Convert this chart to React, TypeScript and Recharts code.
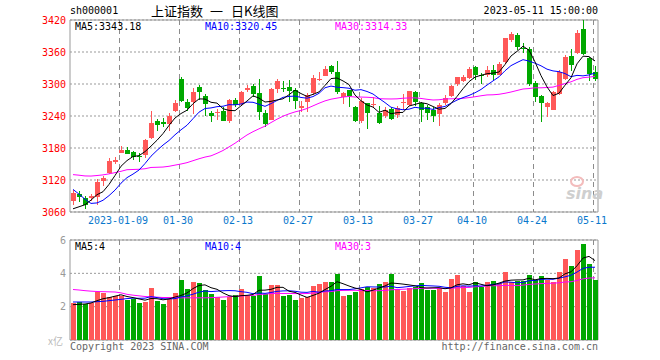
import React from 'react';
import { ComposedChart, Bar, Line, XAxis, YAxis, CartesianGrid, ReferenceArea } from 'recharts';

// trading days shown on the chart
const dates = [
  '2022-12-27', '2022-12-28', '2022-12-29', '2022-12-30',
  '2023-01-03', '2023-01-04', '2023-01-05', '2023-01-06', '2023-01-09', '2023-01-10', '2023-01-11', '2023-01-12',
  '2023-01-13', '2023-01-16', '2023-01-17', '2023-01-18', '2023-01-19', '2023-01-20', '2023-01-30', '2023-01-31',
  '2023-02-01', '2023-02-02', '2023-02-03', '2023-02-06', '2023-02-07', '2023-02-08', '2023-02-09', '2023-02-10',
  '2023-02-13', '2023-02-14', '2023-02-15', '2023-02-16', '2023-02-17', '2023-02-20', '2023-02-21', '2023-02-22',
  '2023-02-23', '2023-02-24', '2023-02-27', '2023-02-28',
  '2023-03-01', '2023-03-02', '2023-03-03', '2023-03-06', '2023-03-07', '2023-03-08', '2023-03-09', '2023-03-10',
  '2023-03-13', '2023-03-14', '2023-03-15', '2023-03-16', '2023-03-17', '2023-03-20', '2023-03-21', '2023-03-22',
  '2023-03-23', '2023-03-24', '2023-03-27', '2023-03-28', '2023-03-29', '2023-03-30', '2023-03-31',
  '2023-04-03', '2023-04-04', '2023-04-06', '2023-04-07', '2023-04-10', '2023-04-11', '2023-04-12', '2023-04-13',
  '2023-04-14', '2023-04-17', '2023-04-18', '2023-04-19', '2023-04-20', '2023-04-21', '2023-04-24', '2023-04-25',
  '2023-04-26', '2023-04-27', '2023-04-28',
  '2023-05-04', '2023-05-05', '2023-05-08', '2023-05-09', '2023-05-10', '2023-05-11',
];

const opens = [
  3080, 3093, 3087, 3085, 3088, 3117, 3133, 3154, 3171, 3177,
  3172, 3165, 3167, 3199, 3231, 3228, 3225, 3249, 3310, 3266,
  3267, 3295, 3278, 3245, 3246, 3250, 3231, 3270, 3262, 3290,
  3296, 3284, 3245, 3233, 3292, 3293, 3295, 3288, 3255, 3267,
  3282, 3309, 3316, 3334, 3322, 3276, 3288, 3257, 3231, 3264,
  3261, 3246, 3240, 3254, 3243, 3263, 3261, 3285, 3264, 3257,
  3252, 3244, 3264, 3277, 3299, 3305, 3311, 3331, 3316, 3317,
  3327, 3318, 3340, 3382, 3392, 3368, 3366, 3302, 3278, 3257,
  3253, 3282, 3310, 3352, 3358, 3404, 3349, 3322,
];

const highs = [
  3102, 3100, 3090, 3093, 3122, 3128, 3162, 3164, 3183, 3181,
  3175, 3170, 3196, 3250, 3234, 3236, 3245, 3270, 3313, 3272,
  3292, 3298, 3282, 3250, 3253, 3256, 3272, 3273, 3287, 3298,
  3300, 3309, 3252, 3292, 3309, 3306, 3307, 3292, 3269, 3283,
  3317, 3322, 3333, 3336, 3344, 3285, 3289, 3258, 3274, 3265,
  3275, 3259, 3257, 3256, 3258, 3282, 3287, 3287, 3267, 3261,
  3257, 3264, 3280, 3298, 3314, 3316, 3331, 3334, 3320, 3333,
  3336, 3342, 3387, 3398, 3396, 3376, 3369, 3305, 3280, 3267,
  3287, 3327, 3355, 3366, 3401, 3420, 3350, 3334,
];

const lows = [
  3074, 3080, 3065, 3080, 3074, 3110, 3132, 3151, 3169, 3167,
  3159, 3154, 3160, 3197, 3211, 3220, 3211, 3247, 3266, 3250,
  3244, 3270, 3240, 3230, 3233, 3229, 3227, 3256, 3258, 3284,
  3276, 3232, 3220, 3232, 3282, 3286, 3265, 3253, 3249, 3247,
  3279, 3305, 3314, 3320, 3282, 3263, 3258, 3228, 3227, 3216,
  3255, 3225, 3236, 3231, 3236, 3252, 3259, 3258, 3230, 3233,
  3228, 3220, 3262, 3276, 3297, 3303, 3308, 3308, 3300, 3313,
  3308, 3318, 3338, 3380, 3364, 3358, 3296, 3265, 3230, 3239,
  3252, 3280, 3308, 3325, 3356, 3355, 3305, 3306,
];

const closes = [
  3095.57, 3087.4, 3073.7, 3089.26, 3116.51, 3123.52, 3155.22, 3157.64, 3176.08, 3169.51,
  3161.84, 3163.45, 3195.31, 3227.59, 3224.41, 3224.24, 3240.28, 3264.81, 3269.32, 3255.67,
  3284.92, 3285.67, 3263.41, 3238.7, 3248.09, 3232.11, 3270.38, 3260.67, 3284.16, 3293.28,
  3280.49, 3249.03, 3224.02, 3290.34, 3306.52, 3291.15, 3287.48, 3267.16, 3258.03, 3279.61,
  3310.65, 3310.17, 3328.39, 3322.03, 3285.1, 3283.25, 3276.09, 3230.08, 3268.7, 3245.31,
  3263.31, 3226.89, 3250.53, 3234.91, 3255.65, 3265.75, 3286.65, 3265.65, 3251.4, 3245.38,
  3240.06, 3261.25, 3272.86, 3296.4, 3312.56, 3312.63, 3327.65, 3315.36, 3313.57, 3327.18,
  3318.36, 3338.15, 3385.61, 3393.33, 3370.13, 3367.0, 3301.26, 3275.41, 3264.87, 3264.1,
  3285.88, 3323.28, 3350.46, 3334.5, 3395.0, 3357.67, 3319.15, 3309.55,
];

// volume, in the unit of the lower panel
const volumes = [
  2.22, 2.28, 2.18, 2.22, 2.89, 2.81, 2.6, 2.63, 2.63, 2.38,
  2.48, 2.2, 2.26, 3.13, 2.32, 2.14, 2.48, 2.81, 3.6, 3.07,
  3.47, 3.41, 2.99, 2.75, 2.59, 2.38, 2.59, 2.69, 3.05, 2.69,
  2.63, 3.86, 2.73, 3.29, 3.29, 2.63, 2.69, 2.38, 2.5, 2.57,
  3.23, 3.37, 3.47, 3.47, 3.96, 2.62, 2.68, 2.86, 3.07, 3.21,
  3.12, 3.34, 3.47, 3.96, 3.07, 2.93, 3.1, 3.2, 3.4, 2.98,
  2.98, 3.15, 2.87, 3.66, 3.9, 3.27, 2.87, 3.47, 3.2, 3.47,
  3.53, 3.4, 4.08, 3.47, 3.54, 3.54, 3.9, 3.6, 3.84, 3.6,
  3.46, 4.08, 4.87, 4.44, 5.42, 5.78, 4.57, 3.6,
];

// moving averages at the left edge (their windows start before the chart)
const ma5Lead = [3066.0, 3069.8, 3073.6, 3082.3];
const ma10Lead = [3102.4, 3093.5, 3084.0, 3076.1, 3077.0, 3082.0, 3090.7, 3101.0, 3114.0];
const ma30Lead = [
  3130.1, 3129.0, 3127.6, 3127.4, 3128.4, 3129.6, 3131.5, 3133.8, 3136.3, 3139.3,
  3139.7, 3140.1, 3141.1, 3143.5, 3143.9, 3144.3, 3145.7, 3147.9, 3150.0, 3152.5,
  3156.2, 3159.8, 3163.0, 3165.3, 3170.0, 3175.3, 3182.0, 3188.9, 3196.8,
];
const volMa5Lead = [2.12, 2.14, 2.16, 2.22];
const volMa10Lead = [2.28, 2.28, 2.28, 2.28, 2.3, 2.32, 2.36, 2.4, 2.44];
const volMa30Lead = [
  3.03, 3.0, 2.96, 2.93, 2.91, 2.9, 2.89, 2.88, 2.83, 2.74,
  2.69, 2.65, 2.61, 2.59, 2.57, 2.55, 2.55, 2.54, 2.53, 2.53,
  2.53, 2.53, 2.53, 2.54, 2.56, 2.58, 2.6, 2.62, 2.64,
];

const priceTicks = [3060, 3120, 3180, 3240, 3300, 3360, 3420];
const volTicks = [2, 4, 6];
const tickDates = ['2023-01-09', '2023-01-30', '2023-02-13', '2023-02-27', '2023-03-13', '2023-03-27', '2023-04-10', '2023-04-24', '2023-05-11'];
const tickLabels = ['2023-01-09', '01-30', '02-13', '02-27', '03-13', '03-27', '04-10', '04-24', '05-11'];

const PRICE_MIN = priceTicks[0];
const PRICE_MAX = priceTicks[priceTicks.length - 1];
const VOL_MAX = volTicks[volTicks.length - 1];

const RED = '#ff5858';
const GREEN = '#00a800';
const DASH = '#8c8c8c';
const MONO = '"DejaVu Sans Mono", "Liberation Mono", monospace';
const CJK = '"Noto Sans CJK SC", sans-serif';

function movingAvg(values: number[], n: number, lead: number[]) {
  return values.map((_, i) => {
    if (i < n - 1) return lead[i];
    let s = 0;
    for (let j = i - n + 1; j <= i; j++) s += values[j];
    return s / n;
  });
}

const ma5 = movingAvg(closes, 5, ma5Lead);
const ma10 = movingAvg(closes, 10, ma10Lead);
const ma30 = movingAvg(closes, 30, ma30Lead);
const vma5 = movingAvg(volumes, 5, volMa5Lead);
const vma10 = movingAvg(volumes, 10, volMa10Lead);
const vma30 = movingAvg(volumes, 30, volMa30Lead);

const rows = dates.map((date, i) => ({
  date,
  idx: i + 0.5,
  open: opens[i],
  high: highs[i],
  low: lows[i],
  close: closes[i],
  range: [lows[i], highs[i]],
  vol: volumes[i],
  up: closes[i] >= opens[i],
  divider: tickDates.includes(date),
  ma5: ma5[i],
  ma10: ma10[i],
  ma30: ma30[i],
  vma5: vma5[i],
  vma10: vma10[i],
  vma30: vma30[i],
}));

const tickIdx = tickDates.map((d) => dates.indexOf(d));
const labelOf = (v: number) => tickLabels[tickIdx.indexOf(v)] ?? '';

// dashed divider on the left edge of a labelled day's slot, from plot top to plot bottom
const Divider = ({ x, y1, y2 }: { x: number; y1: number; y2: number }) => {
  const dashes = [];
  const a = Math.round(y1);
  const b = Math.round(y2);
  for (let yy = a; yy < b; yy += 9) {
    dashes.push(<rect key={yy} x={Math.floor(x)} y={yy} width={1} height={Math.min(5, b - yy)} fill={DASH} />);
  }
  return <g>{dashes}</g>;
};

const Candle = (props: any) => {
  const { x, y, height, payload } = props;
  if (x == null || payload == null) return null;
  const top = Math.min(y, y + height);
  const h = Math.abs(height);
  const span = payload.high - payload.low || 1;
  const k = h / span;
  const bTop = top + (payload.high - Math.max(payload.open, payload.close)) * k;
  const bBot = top + (payload.high - Math.min(payload.open, payload.close)) * k;
  const color = payload.up ? RED : GREEN;
  const bx = Math.floor(x);
  return (
    <g>
      {payload.divider ? (
        <Divider x={x} y1={top - (PRICE_MAX - payload.high) * k} y2={top + (payload.high - PRICE_MIN) * k} />
      ) : null}
      <rect x={bx + 2} y={Math.round(top)} width={1} height={Math.max(Math.round(h), 1)} fill={color} />
      <rect x={bx} y={Math.round(bTop)} width={5} height={Math.max(Math.round(bBot - bTop), 1)} fill={color} />
    </g>
  );
};

const VolBar = (props: any) => {
  const { x, y, height, payload } = props;
  if (x == null || payload == null) return null;
  const bottom = y + height;
  const ppu = height / payload.vol;
  return (
    <g>
      {payload.divider ? <Divider x={x} y1={bottom - VOL_MAX * ppu} y2={bottom} /> : null}
      <rect x={Math.floor(x)} y={Math.round(y)} width={5} height={Math.round(height)} fill={payload.up ? RED : GREEN} />
    </g>
  );
};

const txt = (extra: React.CSSProperties): React.CSSProperties => ({
  position: 'absolute',
  fontFamily: MONO,
  fontSize: 10,
  lineHeight: '12px',
  whiteSpace: 'nowrap',
  ...extra,
});

export default function App() {
  return (
    <div style={{ position: 'absolute', left: 0, top: 0, width: 660, height: 360, background: '#fff' }}>
      {/* price panel */}
      <div style={{ position: 'absolute', left: 0, top: 0 }}>
        <ComposedChart width={660} height={230} data={rows} margin={{ top: 20, right: 62, bottom: 0, left: 0 }}>
          <XAxis
            xAxisId="t"
            dataKey="idx"
            type="number"
            domain={[0, 88]}
            ticks={tickIdx}
            interval={0}
            allowDataOverflow
            tickFormatter={labelOf}
            height={18}
            tickLine={false}
            axisLine={false}
            tickSize={0}
            tickMargin={5}
            tick={{ fill: '#0a78cc', fontSize: 10, fontFamily: MONO }}
          />
          <XAxis xAxisId="c" dataKey="date" type="category" height={0} hide />
          <YAxis
            domain={[PRICE_MIN, PRICE_MAX]}
            ticks={priceTicks}
            interval={0}
            allowDataOverflow
            width={70}
            tickLine={false}
            axisLine={false}
            tickSize={0}
            tickMargin={4}
            tick={{ fill: '#ff0000', fontSize: 10, fontFamily: MONO }}
          />
          <CartesianGrid vertical={false} stroke="#999" strokeDasharray="2 2" />
          <Bar xAxisId="c" dataKey="range" barSize={5} shape={(p: any) => <Candle {...p} />} isAnimationActive={false} />
          <Line xAxisId="c" dataKey="ma30" stroke="#ff00ff" strokeWidth={1} dot={false} isAnimationActive={false} />
          <Line xAxisId="c" dataKey="ma10" stroke="#0000ff" strokeWidth={1} dot={false} isAnimationActive={false} />
          <Line xAxisId="c" dataKey="ma5" stroke="#000000" strokeWidth={1} dot={false} isAnimationActive={false} />
          <ReferenceArea xAxisId="t" x1={0} x2={88} y1={PRICE_MIN} y2={PRICE_MAX} fill="none" stroke="#999" ifOverflow="visible" />
        </ComposedChart>
      </div>

      {/* volume panel */}
      <div style={{ position: 'absolute', left: 0, top: 230 }}>
        <ComposedChart width={660} height={115} data={rows} margin={{ top: 10, right: 62, bottom: 5, left: 0 }}>
          <XAxis
            xAxisId="t"
            dataKey="idx"
            type="number"
            domain={[0, 88]}
            ticks={tickIdx}
            interval={0}
            allowDataOverflow
            height={0}
            tick={false}
            tickLine={false}
            axisLine={false}
          />
          <XAxis xAxisId="c" dataKey="date" type="category" height={0} hide />
          <YAxis
            domain={[0, VOL_MAX]}
            ticks={volTicks}
            interval={0}
            allowDataOverflow
            width={70}
            tickLine={false}
            axisLine={false}
            tickSize={0}
            tickMargin={4}
            tick={{ fill: '#999', fontSize: 10, fontFamily: MONO }}
          />
          <CartesianGrid vertical={false} stroke="#999" strokeDasharray="2 2" />
          <Bar xAxisId="c" dataKey="vol" barSize={5} shape={(p: any) => <VolBar {...p} />} isAnimationActive={false} />
          <Line xAxisId="c" dataKey="vma30" stroke="#ff00ff" strokeWidth={1} dot={false} isAnimationActive={false} />
          <Line xAxisId="c" dataKey="vma10" stroke="#0000ff" strokeWidth={1} dot={false} isAnimationActive={false} />
          <Line xAxisId="c" dataKey="vma5" stroke="#000000" strokeWidth={1} dot={false} isAnimationActive={false} />
          <ReferenceArea xAxisId="t" x1={0} x2={88} y1={0} y2={VOL_MAX} fill="none" stroke="#999" ifOverflow="visible" />
        </ComposedChart>
      </div>

      {/* header */}
      <div style={txt({ left: 70, top: 5, color: '#000' })}>sh000001</div>
      <div style={{ position: 'absolute', left: 151, top: 2, fontFamily: CJK, fontSize: 13, lineHeight: '17px', color: '#000', whiteSpace: 'nowrap' }}>上证指数</div>
      <div style={{ position: 'absolute', left: 210, top: 2, fontFamily: CJK, fontSize: 13, lineHeight: '17px', color: '#000' }}>一</div>
      <div style={{ position: 'absolute', left: 231, top: 2, fontFamily: CJK, fontSize: 13, lineHeight: '17px', color: '#000', whiteSpace: 'nowrap' }}>日K线图</div>
      <div style={txt({ right: 62, top: 5, color: '#000', textAlign: 'right' })}>2023-05-11 15:00:00</div>

      {/* legends */}
      <div style={txt({ left: 75, top: 21, color: '#000' })}>MA5:3343.18</div>
      <div style={txt({ left: 205, top: 21, color: '#0000ff' })}>MA10:3320.45</div>
      <div style={txt({ left: 335, top: 21, color: '#ff00ff' })}>MA30:3314.33</div>
      <div style={txt({ left: 75, top: 241, color: '#000' })}>MA5:4</div>
      <div style={txt({ left: 205, top: 241, color: '#0000ff' })}>MA10:4</div>
      <div style={txt({ left: 335, top: 241, color: '#ff00ff' })}>MA30:3</div>

      {/* watermark */}
      <div style={{ position: 'absolute', left: 570, top: 176, width: 10, height: 7, borderRadius: '50%', border: '2px solid #f3bcbc' }} />
      <div style={{ position: 'absolute', left: 566, top: 184, fontFamily: '"DejaVu Sans", sans-serif', fontStyle: 'italic', fontWeight: 'bold', fontSize: 16, color: '#cfcfcf' }}>sina</div>

      {/* footer */}
      <div style={txt({ left: 48, top: 335, color: '#bbb', fontFamily: CJK })}>x亿</div>
      <div style={txt({ left: 70, top: 341, color: '#666' })}>Copyright 2023 SINA.COM</div>
      <div style={txt({ right: 62, top: 341, color: '#666', textAlign: 'right' })}>http://finance.sina.com.cn</div>
    </div>
  );
}
